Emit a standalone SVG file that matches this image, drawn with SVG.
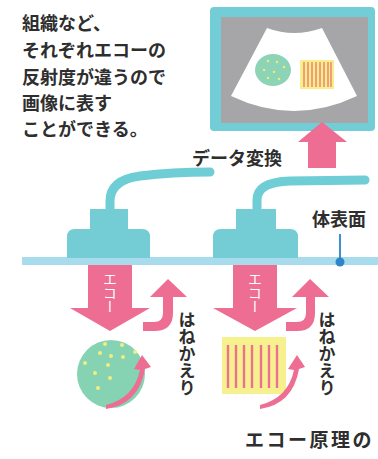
<svg xmlns="http://www.w3.org/2000/svg" width="378" height="459" viewBox="0 0 378 459">
  <style>
    .txt { font-family: "Noto Sans CJK JP", "Noto Sans", sans-serif; font-size: 18px; fill: #2e2e2e; font-weight: 700; }
    .vtxt { font-family: "Noto Sans CJK JP", "Noto Sans", sans-serif; font-size: 17px; fill: #2e2e2e; font-weight: 700; writing-mode: vertical-rl; }
    .echo { font-family: "Noto Sans CJK JP", "Noto Sans", sans-serif; font-size: 14px; fill: #ffffff; writing-mode: vertical-rl; }
    .pink { fill: #ee6d93; }
    .probe { fill: #74ccd5; }
    .cable { fill: none; stroke: #6fcdd6; stroke-width: 9; stroke-linecap: round; }
    .dot { fill: #f4ec7c; }
    .stripe { stroke: #ee7090; stroke-width: 2.4; }
    .mstripe { stroke: #f08a7a; stroke-width: 1.6; }
  </style>

  <rect width="378" height="459" fill="#ffffff"/>

  <!-- explanatory note -->
  <g id="note">
    <text class="txt" x="22" y="30">組織など、</text>
    <text class="txt" x="22" y="57">それぞれエコーの</text>
    <text class="txt" x="22" y="84">反射度が違うので</text>
    <text class="txt" x="22" y="110">画像に表す</text>
    <text class="txt" x="22" y="136">ことができる。</text>
  </g>

  <!-- monitor with ultrasound image -->
  <g id="monitor">
    <rect x="210" y="7" width="165" height="124" rx="4" fill="#73cdd7"/>
    <rect x="221" y="17" width="147" height="106" fill="#a6a6a9"/>
    <path d="M267,28 Q294,38 322,28 L357,96 Q294,126 231,96 Z" fill="#ffffff"/>
    <ellipse cx="273" cy="70" rx="18" ry="16" fill="#8dd3b5"/>
    <g class="dot">
      <circle cx="268" cy="61" r="1.2"/>
      <circle cx="277" cy="62" r="1.2"/>
      <circle cx="284" cy="67" r="1.2"/>
      <circle cx="264" cy="70" r="1.2"/>
      <circle cx="274" cy="72" r="1.2"/>
      <circle cx="268" cy="78" r="1.2"/>
      <circle cx="279" cy="79" r="1.2"/>
    </g>
    <rect x="300" y="60" width="34" height="29" fill="#f7ef8a"/>
    <g class="mstripe">
      <line x1="304" y1="62" x2="304" y2="87"/>
      <line x1="308" y1="62" x2="308" y2="87"/>
      <line x1="312" y1="62" x2="312" y2="87"/>
      <line x1="316" y1="62" x2="316" y2="87"/>
      <line x1="320" y1="62" x2="320" y2="87"/>
      <line x1="324" y1="62" x2="324" y2="87"/>
      <line x1="328" y1="62" x2="328" y2="87"/>
      <line x1="331" y1="62" x2="331" y2="87"/>
    </g>
  </g>

  <!-- connectors: probe cables and data arrow -->
  <g id="connectors">
    <path class="cable" d="M110,212 V201 Q110,180 140,176 Q172,172 210,172"/>
    <path class="cable" d="M257,212 V200 Q257,182 290,181 L365,180"/>
    <path class="pink" d="M308,168 V142 H298 L322,122 L347,142 H336 V168 Z"/>
  </g>

  <text id="data-label" class="txt" x="192" y="165">データ変換</text>

  <!-- body surface -->
  <g id="surface">
    <rect x="22" y="257" width="356" height="8" fill="#a8dcec"/>
    <line x1="340" y1="234" x2="340" y2="261" stroke="#3d8fd0" stroke-width="2"/>
    <circle cx="340" cy="262" r="4.5" fill="#2e86c9"/>
    <text class="txt" x="312" y="226">体表面</text>
  </g>

  <!-- left probe -->
  <g id="probe-left">
    <rect class="probe" x="90" y="209" width="38" height="24"/>
    <path class="probe" d="M67,258 V237 Q67,229 75,229 H142 Q150,229 150,237 V258 Z"/>
  </g>

  <!-- right probe -->
  <g id="probe-right">
    <rect class="probe" x="236" y="209" width="40" height="24"/>
    <path class="probe" d="M213,258 V237 Q213,229 221,229 H290 Q298,229 298,237 V258 Z"/>
  </g>

  <!-- left: echo into round tissue -->
  <g id="echo-left">
    <path class="pink" d="M88,265 H132 V308 H150 L110,331 L70,308 H88 Z"/>
    <text class="echo" x="110" y="272">エコー</text>
  </g>
  <g id="tissue-round">
    <circle cx="111" cy="374" r="34" fill="#86d3b4"/>
    <g class="dot">
      <circle cx="105" cy="344" r="2"/>
      <circle cx="122" cy="345" r="2"/>
      <circle cx="135" cy="352" r="2"/>
      <circle cx="100" cy="353" r="2"/>
      <circle cx="111" cy="356" r="2"/>
      <circle cx="123" cy="357" r="2"/>
      <circle cx="85" cy="363" r="2"/>
      <circle cx="108" cy="365" r="2"/>
      <circle cx="95" cy="373" r="2"/>
      <circle cx="110" cy="378" r="2"/>
      <circle cx="98" cy="388" r="2"/>
    </g>
  </g>
  <g id="bounce-left">
    <path class="pink" d="M143,322 H154 Q163,322 163,313 V297 H150 L168,279 L187,297 H173 V313 Q173,331 154,331 H143 Z"/>
    <path class="pink" d="M106,409 Q139,404 145,369 L151,367 L142,355 L134,369 L140,370 Q134,398 106,405 Z"/>
    <text class="vtxt" x="187" y="311">はねかえり</text>
  </g>

  <!-- right: echo into striped tissue -->
  <g id="echo-right">
    <path class="pink" d="M233,265 H277 V308 H297 L255,331 L213,308 H233 Z"/>
    <text class="echo" x="255" y="272">エコー</text>
  </g>
  <g id="tissue-striped">
    <rect x="222" y="337" width="64" height="57" fill="#f7f08e"/>
    <g class="stripe">
      <line x1="228" y1="345" x2="228" y2="388"/>
      <line x1="236" y1="345" x2="236" y2="388"/>
      <line x1="244" y1="345" x2="244" y2="388"/>
      <line x1="252" y1="345" x2="252" y2="388"/>
      <line x1="261" y1="345" x2="261" y2="388"/>
      <line x1="269" y1="345" x2="269" y2="388"/>
      <line x1="277" y1="345" x2="277" y2="388"/>
    </g>
  </g>
  <g id="bounce-right">
    <path class="pink" d="M286,322 H297 Q306,322 306,313 V297 H292 L310,279 L329,297 H315 V313 Q315,331 297,331 H286 Z"/>
    <path class="pink" d="M260,409 Q293,404 299,369 L305,367 L297,355 L288,369 L294,370 Q288,398 260,405 Z"/>
    <text class="vtxt" x="327" y="311">はねかえり</text>
  </g>

  <text id="caption" class="txt" x="245" y="447" style="font-size:19px; letter-spacing:2.5px">エコー原理の</text>
</svg>
